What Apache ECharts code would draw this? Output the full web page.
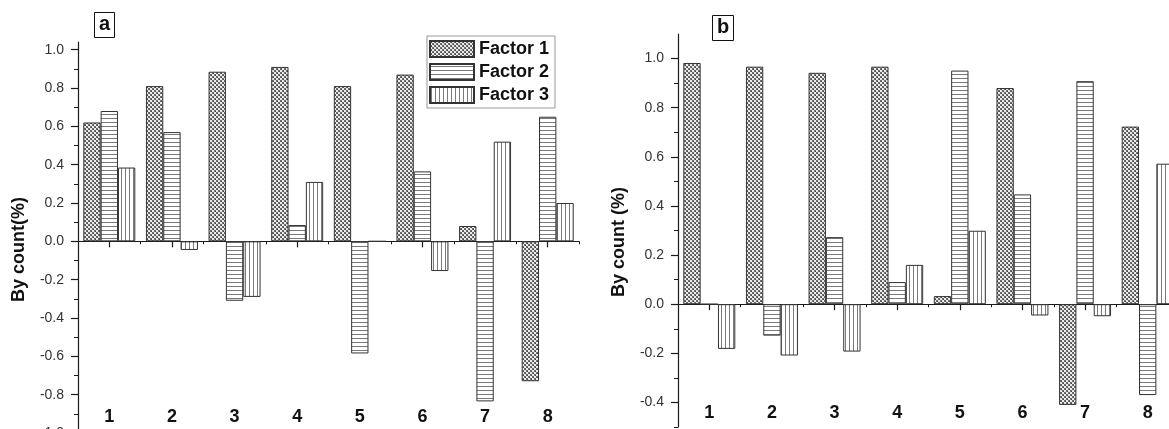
<!DOCTYPE html>
<html>
<head>
<meta charset="utf-8">
<script src="https://cdn.jsdelivr.net/npm/echarts@6/dist/echarts.min.js"></script>
<style>
html,body{margin:0;padding:0;background:#fff;}
#chart{width:1169px;height:429px;}
</style>
</head>
<body>
<div id="chart"></div>
<script>
// ---- data ----
const categories = ['1', '2', '3', '4', '5', '6', '7', '8'];
const seriesNames = ['Factor 1', 'Factor 2', 'Factor 3'];

const aFactor1 = [0.62, 0.81, 0.885, 0.91, 0.81, 0.87, 0.08, -0.73];
const aFactor2 = [0.68, 0.57, -0.31, 0.085, -0.585, 0.365, -0.835, 0.65];
const aFactor3 = [0.385, -0.045, -0.29, 0.31, 0, -0.155, 0.52, 0.2];

const bFactor1 = [0.982, 0.967, 0.942, 0.967, 0.033, 0.88, -0.41, 0.723];
const bFactor2 = [0, -0.128, 0.273, 0.09, 0.951, 0.447, 0.908, -0.37];
const bFactor3 = [-0.182, -0.209, -0.193, 0.16, 0.299, -0.046, -0.049, 0.572];

const aMajorTicks = [-1.0, -0.8, -0.6, -0.4, -0.2, 0.0, 0.2, 0.4, 0.6, 0.8, 1.0];
const aMinorTicks = [-0.9, -0.7, -0.5, -0.3, -0.1, 0.1, 0.3, 0.5, 0.7, 0.9];
const bMajorTicks = [-0.4, -0.2, 0.0, 0.2, 0.4, 0.6, 0.8, 1.0];
const bMinorTicks = [-0.5, -0.3, -0.1, 0.1, 0.3, 0.5, 0.7, 0.9];

const aTitle = 'By count(%)';
const bTitle = 'By count (%)';

// ---- patterns ----
function makeTile(w, h, draw) {
  const c = document.createElement('canvas');
  c.width = w; c.height = h;
  const ctx = c.getContext('2d');
  draw(ctx);
  return { image: c, repeat: 'repeat' };
}
const patCheck = makeTile(4, 4, ctx => {
  ctx.fillStyle = '#ececec'; ctx.fillRect(0, 0, 4, 4);
  ctx.fillStyle = '#6a6a6a'; ctx.fillRect(0, 0, 2, 2); ctx.fillRect(2, 2, 2, 2);
  ctx.fillStyle = '#4a4a4a'; ctx.fillRect(1, 1, 1, 1); ctx.fillRect(3, 3, 1, 1);
});
const patHoriz = makeTile(4, 4, ctx => {
  ctx.fillStyle = '#fff'; ctx.fillRect(0, 0, 4, 4);
  ctx.fillStyle = '#7a7a7a'; ctx.fillRect(0, 2, 4, 1);
});
const patVert = makeTile(4, 4, ctx => {
  ctx.fillStyle = '#fff'; ctx.fillRect(0, 0, 4, 4);
  ctx.fillStyle = '#7a7a7a'; ctx.fillRect(1, 0, 1, 4);
});
const patterns = [patCheck, patHoriz, patVert];

const FONT = '"Liberation Sans", Arial, sans-serif';
const axisCol = '#1a1a1a';

function xAxesFor(gridIndex, labelMargin) {
  const zeroIdx = gridIndex === 0 ? 0 : 2;
  return [
    { // zero line with centre ticks
      type: 'category', gridIndex, data: categories, position: 'bottom',
      axisLine: { show: true, onZero: true, onZeroAxisIndex: zeroIdx, lineStyle: { color: axisCol, width: 1.2 } },
      axisTick: { show: true, alignWithLabel: true, length: 6, lineStyle: { color: axisCol, width: 1.2 } },
      axisLabel: { show: false }, splitLine: { show: false }
    },
    { // boundary ticks
      type: 'category', gridIndex, data: categories, position: 'bottom',
      axisLine: { show: false, onZero: true, onZeroAxisIndex: zeroIdx },
      axisTick: { show: true, alignWithLabel: false, length: 3, lineStyle: { color: axisCol, width: 1 } },
      axisLabel: { show: false }, splitLine: { show: false }
    },
    { // bottom labels
      type: 'category', gridIndex, data: categories, position: 'bottom',
      axisLine: { show: false, onZero: false }, axisTick: { show: false },
      axisLabel: { show: true, inside: true, margin: labelMargin, verticalAlign: 'middle',
        fontSize: 18, fontWeight: 'bold', color: '#111', fontFamily: FONT },
      splitLine: { show: false }
    }
  ];
}

function yAxesFor(gridIndex, min, max, major, minor, title, pad) {
  return [
    {
      type: 'value', gridIndex, min, max, position: 'left',
      name: title, nameLocation: 'middle', nameRotate: 90, nameGap: 50,
      nameTextStyle: { fontSize: 18, fontWeight: 'bold', color: '#111', fontFamily: FONT, padding: [0, pad, 0, 0] },
      axisLine: { show: true, onZero: false, lineStyle: { color: axisCol, width: 1.2 } },
      axisTick: { show: true, length: 7, customValues: major, lineStyle: { color: axisCol, width: 1.2 } },
      axisLabel: { show: true, customValues: major, margin: 14, fontSize: 14, color: '#333', fontFamily: FONT,
        formatter: v => Number(v).toFixed(1) },
      splitLine: { show: false }
    },
    {
      type: 'value', gridIndex, min, max, position: 'left',
      axisLine: { show: false, onZero: false },
      axisTick: { show: true, length: 4, customValues: minor, lineStyle: { color: axisCol, width: 1 } },
      axisLabel: { show: false }, splitLine: { show: false }
    }
  ];
}

function barSeries(name, data, idx, xIdx, yIdx) {
  return {
    name, type: 'bar', data, xAxisIndex: xIdx, yAxisIndex: yIdx,
    barGap: '0%', barCategoryGap: '17%',
    itemStyle: { color: patterns[idx], borderColor: '#333', borderWidth: 1 },
    emphasis: { disabled: true },
    animation: false
  };
}

const chart = echarts.init(document.getElementById('chart'), null, { renderer: 'canvas' });
chart.setOption({
  animation: false,
  backgroundColor: '#fff',
  title: [
    { text: 'a', left: 94, top: 12, padding: [2, 5, 4, 5], borderWidth: 1, borderColor: '#111',
      textStyle: { fontSize: 20, fontWeight: 'bold', color: '#111', fontFamily: FONT } },
    { text: 'b', left: 712, top: 15, padding: [2, 5, 4, 5], borderWidth: 1, borderColor: '#111',
      textStyle: { fontSize: 20, fontWeight: 'bold', color: '#111', fontFamily: FONT } }
  ],
  legend: {
    data: seriesNames, orient: 'vertical', left: 427, top: 36,
    itemWidth: 44, itemHeight: 16, itemGap: 5,
    padding: [4, 6, 4, 2], borderColor: '#999', borderWidth: 1,
    textStyle: { fontSize: 18, fontWeight: 'bold', color: '#111', fontFamily: FONT },
    icon: 'rect', selectedMode: false
  },
  grid: [
    { left: 78, top: 42, width: 501, height: 391, outerBoundsMode: 'none', containLabel: false },
    { left: 678, top: 34, width: 501, height: 393, outerBoundsMode: 'none', containLabel: false }
  ],
  xAxis: [...xAxesFor(0, 16), ...xAxesFor(1, 14)],
  yAxis: [
    ...yAxesFor(0, -1.0, 1.04, aMajorTicks, aMinorTicks, aTitle, 24),
    ...yAxesFor(1, -0.5, 1.1, bMajorTicks, bMinorTicks, bTitle, 23)
  ],
  series: [
    barSeries(seriesNames[0], aFactor1, 0, 0, 0),
    barSeries(seriesNames[1], aFactor2, 1, 0, 0),
    barSeries(seriesNames[2], aFactor3, 2, 0, 0),
    barSeries(seriesNames[0], bFactor1, 0, 3, 2),
    barSeries(seriesNames[1], bFactor2, 1, 3, 2),
    barSeries(seriesNames[2], bFactor3, 2, 3, 2)
  ]
});
</script>
</body>
</html>
